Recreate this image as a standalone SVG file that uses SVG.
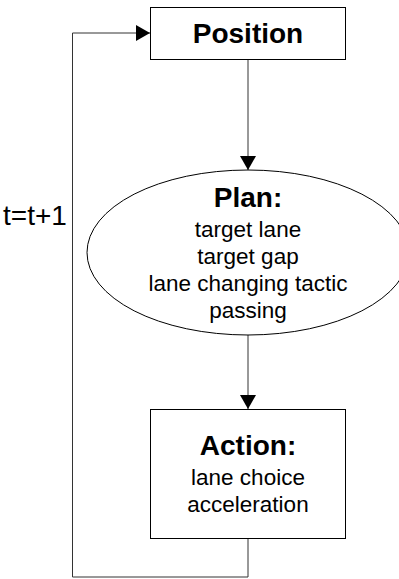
<svg xmlns="http://www.w3.org/2000/svg" width="399" height="579" viewBox="0 0 399 579">
  <style>
    .shape { fill: #ffffff; stroke: #000000; stroke-width: 1; }
    .wire { fill: none; stroke: #333333; stroke-width: 1; }
    .title { font-family: "Liberation Sans", Arial, sans-serif; font-weight: bold; font-size: 28px; text-anchor: middle; fill: #000000; }
    .item { font-family: "Liberation Sans", Arial, sans-serif; font-size: 22.5px; text-anchor: middle; fill: #000000; }
    .label { font-family: "Liberation Sans", Arial, sans-serif; font-size: 28px; fill: #000000; }
  </style>
  <defs>
    <marker id="head" viewBox="0 0 14 16" refX="14" refY="8" markerWidth="14" markerHeight="16" markerUnits="userSpaceOnUse" orient="auto">
      <path d="M0,0 L14,8 L0,16 Z" fill="#000000"/>
    </marker>
  </defs>
  <rect width="399" height="579" fill="#ffffff"/>

  <g id="connectors">
    <line class="wire" x1="248" y1="59" x2="248" y2="170" marker-end="url(#head)"/>
    <line class="wire" x1="248" y1="335" x2="248" y2="409" marker-end="url(#head)"/>
    <polyline class="wire" points="248,539 248,577 72.5,577 72.5,33 150,33" marker-end="url(#head)"/>
    <text class="label" x="3" y="225">t=t+1</text>
  </g>

  <g id="position">
    <rect class="shape" x="150.5" y="7.5" width="195" height="52"/>
    <text class="title" x="248" y="43">Position</text>
  </g>

  <g id="plan">
    <ellipse class="shape" cx="248" cy="252.5" rx="161" ry="82.5"/>
    <text class="title" x="248" y="207">Plan:</text>
    <text class="item" x="248" y="237">target lane</text>
    <text class="item" x="248" y="264">target gap</text>
    <text class="item" x="248" y="291">lane changing tactic</text>
    <text class="item" x="248" y="318">passing</text>
  </g>

  <g id="action">
    <rect class="shape" x="150.5" y="409.5" width="195" height="129"/>
    <text class="title" x="248" y="455">Action:</text>
    <text class="item" x="248" y="485">lane choice</text>
    <text class="item" x="248" y="512">acceleration</text>
  </g>
</svg>
